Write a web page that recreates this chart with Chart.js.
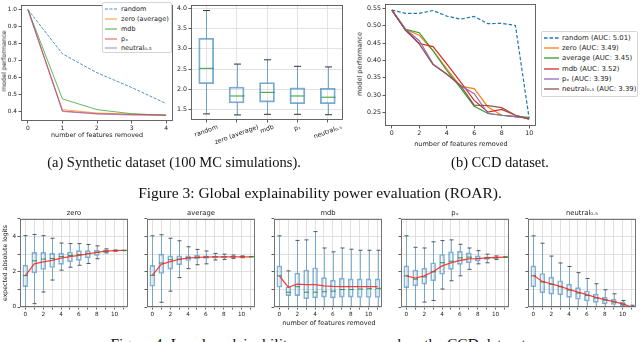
<!DOCTYPE html>
<html><head><meta charset="utf-8">
<script src="https://cdn.jsdelivr.net/npm/chart.js@4.4.1/dist/chart.umd.min.js"></script>
<style>
html,body{margin:0;padding:0;background:#fff;}
body{position:relative;width:640px;height:342px;overflow:hidden;}
canvas{position:absolute;}
.lbl{position:absolute;font-family:'DejaVu Sans',sans-serif;color:#1a1a1a;white-space:nowrap;line-height:1;}
.cap{position:absolute;font-family:'Liberation Serif',serif;color:#111;white-space:nowrap;line-height:1;}
.leg{position:absolute;background:#fff;border:1px solid #d4d4d4;border-radius:2px;box-sizing:border-box;}
</style></head><body>
<script>
// ================= DATA =================
// (a) synthetic dataset, ROAR curves
const synthSteps   = [0, 1, 2, 3, 4];
const synthRandom  = [1.0, 0.739, 0.627, 0.541, 0.446];
const synthZeroAvg = [1.0, 0.410, 0.390, 0.384, 0.378];
const synthMdb     = [1.0, 0.473, 0.410, 0.386, 0.376];
const synthPx      = [1.0, 0.402, 0.386, 0.381, 0.378];
const synthNeutral = [1.0, 0.399, 0.384, 0.378, 0.377];
const synthLabels  = ['random', 'zero (average)', 'mdb', 'pₓ', 'neutral₀.₅'];
const synthXTicks  = [0, 1, 2, 3, 4];
const synthYTicks  = [0.4, 0.5, 0.6, 0.7, 0.8, 0.9, 1.0];

// (a) synthetic dataset, AUC box plot
const boxCategories = ['random', 'zero (average)', 'mdb', 'pₓ', 'neutral₀.₅'];
const boxPositions  = [1, 2, 3, 4, 5];
const boxLow    = [1.40, 1.375, 1.39, 1.39, 1.38];
const boxQ1     = [2.14, 1.67, 1.69, 1.65, 1.65];
const boxMedian = [2.52, 1.84, 1.93, 1.84, 1.81];
const boxQ3     = [3.26, 2.06, 2.17, 2.04, 2.03];
const boxHigh   = [3.94, 2.625, 2.73, 2.57, 2.555];
const boxYTicks = [1.5, 2.0, 2.5, 3.0, 3.5, 4.0];

// (b) CCD dataset, ROAR curves
const ccdSteps   = [0, 1, 2, 3, 4, 5, 6, 7, 8, 9, 10];
const ccdRandom  = [0.545, 0.536, 0.536, 0.544, 0.528, 0.519, 0.527, 0.506, 0.507, 0.501, 0.233];
const ccdZero    = [0.545, 0.490, 0.473, 0.428, 0.376, 0.325, 0.319, 0.266, 0.242, 0.238, 0.233];
const ccdAverage = [0.545, 0.490, 0.480, 0.428, 0.371, 0.321, 0.268, 0.247, 0.242, 0.238, 0.236];
const ccdMdb     = [0.545, 0.487, 0.449, 0.440, 0.390, 0.338, 0.285, 0.251, 0.259, 0.242, 0.231];
const ccdPx      = [0.545, 0.490, 0.457, 0.390, 0.361, 0.328, 0.304, 0.247, 0.242, 0.238, 0.233];
const ccdNeutral = [0.545, 0.487, 0.447, 0.388, 0.360, 0.328, 0.271, 0.270, 0.264, 0.242, 0.231];
const ccdLabels  = ['random (AUC: 5.01)', 'zero (AUC: 3.49)', 'average (AUC: 3.45)',
                    'mdb (AUC: 3.52)', 'pₓ (AUC: 3.39)', 'neutral₀.₅ (AUC: 3.39)'];
const ccdXTicks  = [0, 2, 4, 6, 8, 10];
const ccdYTicks  = [0.25, 0.30, 0.35, 0.40, 0.45, 0.50, 0.55];

// Figure 4: local explainability, box plots per number of removed features
const localTitles    = ['zero', 'average', 'mdb', 'pₓ', 'neutral₀.₅'];
const localPositions = [0, 1, 2, 3, 4, 5, 6, 7, 8, 9, 10, 11];
const localXTicks    = [0, 2, 4, 6, 8, 10];
const localYGrid     = [0, 1, 2, 3, 4, 5];
const localYTicks    = [0, 2, 4];

const zeroLow    = [0.00, 0.19, 0.85, 1.53, 2.09, 2.26, 2.37, 2.47, 2.74, 3.07, 3.17, 3.20];
const zeroQ1     = [1.16, 1.93, 2.13, 2.24, 2.42, 2.56, 2.65, 2.79, 2.93, 3.10, 3.18, 3.20];
const zeroMedian = [1.78, 2.62, 2.72, 2.75, 2.86, 2.93, 2.98, 3.04, 3.10, 3.17, 3.20, 3.21];
const zeroQ3     = [2.37, 3.10, 3.10, 3.04, 3.06, 3.12, 3.20, 3.20, 3.23, 3.25, 3.22, 3.22];
const zeroHigh   = [4.05, 4.12, 4.05, 3.90, 3.63, 3.60, 3.60, 3.55, 3.47, 3.30, 3.24, 3.22];
const zeroMean   = [1.78, 2.45, 2.56, 2.65, 2.78, 2.86, 2.93, 3.02, 3.10, 3.17, 3.20, 3.21];

const averageLow    = [0.00, 0.27, 0.90, 1.67, 2.18, 2.40, 2.45, 2.67, 2.70, 2.76, 2.80, 2.85];
const averageQ1     = [1.18, 1.90, 2.15, 2.40, 2.64, 2.73, 2.76, 2.78, 2.80, 2.82, 2.84, 2.85];
const averageMedian = [1.80, 2.50, 2.68, 2.72, 2.80, 2.83, 2.84, 2.84, 2.84, 2.85, 2.85, 2.85];
const averageQ3     = [2.36, 3.00, 2.90, 2.90, 2.90, 2.94, 2.90, 2.89, 2.88, 2.87, 2.86, 2.85];
const averageHigh   = [4.04, 4.10, 3.90, 3.76, 3.42, 3.27, 3.18, 3.04, 3.00, 2.95, 2.90, 2.86];
const averageMean   = [1.80, 2.42, 2.58, 2.70, 2.78, 2.82, 2.83, 2.84, 2.84, 2.85, 2.85, 2.85];

const mdbLow    = [0, 0, 0, 0, 0, 0, 0, 0, 0, 0, 0, 0];
const mdbQ1     = [1.12, 0.65, 0.65, 0.47, 0.52, 0.56, 0.52, 0.56, 0.56, 0.54, 0.54, 0.54];
const mdbMedian = [1.77, 0.84, 1.15, 0.84, 0.84, 0.87, 0.90, 0.99, 0.99, 1.02, 1.04, 1.06];
const mdbQ3     = [2.33, 1.15, 1.92, 2.10, 2.23, 1.67, 1.53, 1.64, 1.60, 1.60, 1.60, 1.60];
const mdbHigh   = [4.04, 2.05, 3.78, 3.81, 4.28, 3.35, 3.13, 3.35, 3.28, 3.22, 3.22, 3.22];
const mdbMean   = [1.77, 1.12, 1.30, 1.27, 1.27, 1.20, 1.17, 1.16, 1.16, 1.16, 1.16, 1.16];

const pxLow    = [0.00, 0.00, 0.28, 0.37, 1.02, 1.49, 1.77, 2.14, 2.45, 2.51, 2.70, 2.83];
const pxQ1     = [1.10, 1.20, 1.30, 1.49, 1.86, 2.14, 2.42, 2.51, 2.60, 2.70, 2.76, 2.83];
const pxMedian = [1.77, 1.58, 1.71, 2.00, 2.51, 2.60, 2.79, 2.83, 2.75, 2.78, 2.80, 2.83];
const pxQ3     = [2.33, 2.10, 2.20, 2.51, 2.98, 3.13, 3.16, 3.07, 2.90, 2.85, 2.84, 2.83];
const pxHigh   = [4.04, 3.39, 3.35, 3.70, 3.77, 3.81, 3.56, 3.35, 3.20, 3.00, 2.90, 2.84];
const pxMean   = [1.77, 1.64, 1.77, 2.00, 2.33, 2.51, 2.64, 2.73, 2.75, 2.79, 2.81, 2.83];

const neutralLow    = [0, 0, 0, 0, 0, 0, 0, 0, 0, 0, 0, 0];
const neutralQ1     = [1.15, 0.80, 0.73, 0.69, 0.55, 0.44, 0.34, 0.26, 0.18, 0.14, 0.08, 0.00];
const neutralMedian = [1.77, 1.42, 1.29, 1.15, 0.96, 0.79, 0.65, 0.51, 0.39, 0.28, 0.16, 0.02];
const neutralQ3     = [2.33, 1.90, 1.70, 1.49, 1.30, 1.10, 0.91, 0.73, 0.55, 0.43, 0.28, 0.05];
const neutralHigh   = [4.04, 3.62, 2.89, 2.50, 2.30, 1.95, 1.62, 1.32, 0.98, 0.75, 0.37, 0.10];
const neutralMean   = [1.80, 1.45, 1.31, 1.17, 1.00, 0.85, 0.70, 0.55, 0.42, 0.30, 0.18, 0.00];

// ================= HELPERS =================
Chart.defaults.animation = false;
Chart.defaults.font.family = "'DejaVu Sans', sans-serif";
Chart.defaults.font.size = 6;
Chart.defaults.color = '#1a1a1a';
const NS = 'http://www.w3.org/2000/svg';
const AX = '#333';

function addCanvas(L, T, R, B, m) {
  const c = document.createElement('canvas');
  const w = R - L + m.l + m.r, h = B - T + m.t + m.b;
  c.width = w; c.height = h;
  c.style.left = (L - m.l) + 'px'; c.style.top = (T - m.t) + 'px';
  c.style.width = w + 'px'; c.style.height = h + 'px';
  document.body.appendChild(c);
  return c;
}
function scaleCfg(min, max, ticks, fmt, fit, grid, fs) {
  return {
    type: 'linear', min, max, offset: false,
    afterBuildTicks: s => { s.ticks = ticks.map(v => ({ value: v })); },
    afterFit: s => { if (s.isHorizontal()) s.height = fit; else s.width = fit; },
    ticks: { autoSkip: false, maxRotation: 0, minRotation: 0, padding: 1.5,
             font: { size: fs }, color: '#1a1a1a', callback: fmt },
    grid: { display: true, drawOnChartArea: !!grid, color: grid || 'rgba(0,0,0,0)',
            lineWidth: 0.8, drawTicks: true, tickLength: 2.5, tickColor: AX, tickWidth: 0.8, offset: false },
    border: { display: false }
  };
}
function baseOpts(m, scales) {
  return { responsive: false, animation: false, events: [],
    layout: { padding: { left: 0, top: m.t, right: m.r, bottom: 0 } },
    plugins: { legend: { display: false }, tooltip: { enabled: false } },
    scales };
}
function framePlugin(color) {
  return { id: 'frame', afterDatasetsDraw(chart) {
    const a = chart.chartArea, ctx = chart.ctx;
    ctx.save(); ctx.strokeStyle = color; ctx.lineWidth = 0.9;
    ctx.strokeRect(Math.round(a.left) + 0.5, Math.round(a.top) + 0.5,
                   Math.round(a.right - a.left) - 1, Math.round(a.bottom - a.top) - 1);
    ctx.restore();
  } };
}
function whiskerPlugin(pos, lo, q1, med, q3, hi, st) {
  return { id: 'whiskers', beforeDatasetsDraw(chart) {
    const xs = chart.scales.x, ys = chart.scales.y, ctx = chart.ctx, a = chart.chartArea;
    ctx.save();
    ctx.beginPath(); ctx.rect(a.left, a.top, a.right - a.left, a.bottom - a.top); ctx.clip();
    const seg = (x1, y1, x2, y2, c, w) => { ctx.strokeStyle = c; ctx.lineWidth = w;
      ctx.beginPath(); ctx.moveTo(x1, y1); ctx.lineTo(x2, y2); ctx.stroke(); };
    pos.forEach((p, i) => {
      const x = Math.round(xs.getPixelForValue(p)) + 0.5;
      const yl = ys.getPixelForValue(lo[i]), y1 = ys.getPixelForValue(q1[i]);
      const ym = ys.getPixelForValue(med[i]), y3 = ys.getPixelForValue(q3[i]);
      const yh = ys.getPixelForValue(hi[i]);
      seg(x, y3, x, yh, st.whisker, st.lw); seg(x, y1, x, yl, st.whisker, st.lw);
      seg(x - st.cap, yh, x + st.cap, yh, st.capColor, st.lw);
      seg(x - st.cap, yl, x + st.cap, yl, st.capColor, st.lw);
      seg(x - st.half, ym, x + st.half, ym, st.median, st.lw);
    });
    ctx.restore();
  } };
}
function rotLabelPlugin(pos, labels, angle, size, gap) {
  return { id: 'rotLabels', afterDraw(chart) {
    const ctx = chart.ctx, xs = chart.scales.x, top = chart.chartArea.bottom + gap;
    const th = angle * Math.PI / 180;
    ctx.save(); ctx.font = size + "px 'DejaVu Sans'"; ctx.fillStyle = '#1a1a1a';
    labels.forEach((lab, i) => {
      const w = ctx.measureText(lab).width;
      const H = w * Math.sin(th) + size * Math.cos(th);
      ctx.save();
      ctx.translate(xs.getPixelForValue(pos[i]), top + H / 2);
      ctx.rotate(-th); ctx.textAlign = 'center'; ctx.textBaseline = 'middle';
      ctx.fillText(lab, 0, 0); ctx.restore();
    });
    ctx.restore();
  } };
}
function txt(s, cx, cy, size, cls, rot) {
  const d = document.createElement('div');
  d.className = cls; d.textContent = s;
  d.style.left = cx + 'px'; d.style.top = cy + 'px'; d.style.fontSize = size + 'px';
  d.style.transform = 'translate(-50%,-50%)' + (rot ? ' rotate(' + rot + 'deg)' : '');
  document.body.appendChild(d);
}
function legend(box, labels, styles, y0, dy, sx, sw, tx, fs) {
  const d = document.createElement('div'); d.className = 'leg';
  d.style.left = box[0] + 'px'; d.style.top = box[1] + 'px';
  d.style.width = box[2] + 'px'; d.style.height = box[3] + 'px';
  document.body.appendChild(d);
  labels.forEach((lab, i) => {
    const y = y0 + i * dy, st = styles[i];
    const svg = document.createElementNS(NS, 'svg');
    svg.setAttribute('width', sw); svg.setAttribute('height', 4);
    svg.style.cssText = 'position:absolute;overflow:visible;left:' + sx + 'px;top:' + (y - 2) + 'px';
    const ln = document.createElementNS(NS, 'line');
    ln.setAttribute('x1', 0); ln.setAttribute('y1', 2); ln.setAttribute('x2', sw); ln.setAttribute('y2', 2);
    ln.setAttribute('stroke', st.color); ln.setAttribute('stroke-width', st.width);
    if (st.dash) ln.setAttribute('stroke-dasharray', st.dash.join(' '));
    svg.appendChild(ln); document.body.appendChild(svg);
    const t = document.createElement('div'); t.className = 'lbl'; t.textContent = lab;
    t.style.left = tx + 'px'; t.style.top = y + 'px'; t.style.fontSize = fs + 'px';
    t.style.transform = 'translateY(-50%)';
    document.body.appendChild(t);
  });
}

// ================= (a) left: ROAR synthetic =================
(function () {
  const L = 21, T = 3, R = 173, B = 121, m = { l: 21, t: 3, r: 4, b: 11 };
  const c = addCanvas(L, T, R, B, m);
  const series = [synthRandom, synthZeroAvg, synthMdb, synthPx, synthNeutral];
  const colors = ['rgba(31,119,180,0.8)', 'rgba(255,127,14,0.7)', 'rgba(44,160,44,0.75)',
                  'rgba(214,39,40,0.65)', 'rgba(148,103,189,0.7)'];
  new Chart(c, {
    type: 'line',
    data: { datasets: series.map((s, i) => ({
      label: synthLabels[i], data: synthSteps.map((x, j) => ({ x, y: s[j] })),
      borderColor: colors[i], borderWidth: 1, borderDash: i === 0 ? [3, 1.5] : [],
      pointRadius: 0, tension: 0, order: -i })) },
    options: baseOpts(m, {
      x: scaleCfg(-0.2, 4.2, synthXTicks, v => String(v), m.b, null, 6),
      y: scaleCfg(0.343, 1.027, synthYTicks, v => v.toFixed(1), m.l, null, 5.8) }),
    plugins: [framePlugin('#555')]
  });
  legend([102, 2, 70, 51], synthLabels,
    colors.map((col, i) => ({ color: col, width: 1.2, dash: i === 0 ? [3, 1.5] : null })),
    9.3, 9.75, 105, 12, 121, 6.5);
  txt('number of features removed', 97, 134.5, 6.4, 'lbl');
  txt('model performance', 3.6, 61, 6.2, 'lbl', -90);
})();

// ================= (a) right: AUC box plot =================
(function () {
  const L = 191, T = 3, R = 343, B = 120, m = { l: 16, t: 3, r: 3, b: 27 };
  const c = addCanvas(L, T, R, B, m);
  const boxColor = 'rgba(31,119,180,0.6)';
  new Chart(c, {
    type: 'bar',
    data: { datasets: [{
      type: 'bar', data: boxPositions.map((p, i) => ({ x: p, y: [boxQ1[i], boxQ3[i]] })),
      backgroundColor: 'rgba(0,0,0,0)', borderColor: boxColor, borderWidth: 1.2,
      borderSkipped: false, barThickness: 15, grouped: false }] },
    options: baseOpts(m, {
      x: scaleCfg(0.5, 5.5, boxPositions, () => '', m.b, '#dcdcdc', 6.3),
      y: scaleCfg(1.25, 4.07, boxYTicks, v => v.toFixed(1), m.l, '#dcdcdc', 6.3) }),
    plugins: [
      whiskerPlugin(boxPositions, boxLow, boxQ1, boxMedian, boxQ3, boxHigh,
        { whisker: boxColor, capColor: '#333', median: '#2ca02c', lw: 1, cap: 3.5, half: 7 }),
      rotLabelPlugin(boxPositions, boxCategories, 20, 6.3, 4),
      framePlugin('#555')]
  });
})();

// ================= (b) ROAR CCD =================
(function () {
  const L = 385, T = 2, R = 536, B = 126, m = { l: 22, t: 3, r: 3, b: 11 };
  const c = addCanvas(L, T, R, B, m);
  const series = [ccdRandom, ccdZero, ccdAverage, ccdMdb, ccdPx, ccdNeutral];
  const colors = ['#1f77b4', '#ff7f0e', '#2ca02c', '#d62728', '#9467bd', '#8c564b'];
  new Chart(c, {
    type: 'line',
    data: { datasets: series.map((s, i) => ({
      label: ccdLabels[i], data: ccdSteps.map((x, j) => ({ x, y: s[j] })),
      borderColor: colors[i], borderWidth: 1.2, borderDash: i === 0 ? [3.5, 2] : [],
      pointRadius: 0, tension: 0, order: -i })) },
    options: baseOpts(m, {
      x: scaleCfg(-0.5, 10.5, ccdXTicks, v => String(v), m.b, null, 6.3),
      y: scaleCfg(0.211, 0.562, ccdYTicks, v => v.toFixed(2), m.l, null, 6.3) }),
    plugins: [framePlugin('#555')]
  });
  legend([541, 31, 97, 66], ccdLabels,
    colors.map((col, i) => ({ color: col, width: 1.3, dash: i === 0 ? [3.5, 2] : null })),
    37.7, 10.3, 544, 15, 562, 6.9);
  txt('number of features removed', 461, 144, 6.5, 'lbl');
  txt('model performance', 359.5, 64, 6.5, 'lbl', -90);
})();

// ================= Figure 4 panels =================
const localPanels = [
  { title: localTitles[0], low: zeroLow, q1: zeroQ1, med: zeroMedian, q3: zeroQ3, high: zeroHigh, mean: zeroMean },
  { title: localTitles[1], low: averageLow, q1: averageQ1, med: averageMedian, q3: averageQ3, high: averageHigh, mean: averageMean },
  { title: localTitles[2], low: mdbLow, q1: mdbQ1, med: mdbMedian, q3: mdbQ3, high: mdbHigh, mean: mdbMean },
  { title: localTitles[3], low: pxLow, q1: pxQ1, med: pxMedian, q3: pxQ3, high: pxHigh, mean: pxMean },
  { title: localTitles[4], low: neutralLow, q1: neutralQ1, med: neutralMedian, q3: neutralQ3, high: neutralHigh, mean: neutralMean }
];
localPanels.forEach((pn, k) => {
  const L = 20 + 127 * k, T = 217, R = L + 108, B = 307;
  const m = { l: k === 0 ? 20 : 4, t: 3, r: 3, b: 10 };
  const c = addCanvas(L, T, R, B, m);
  const boxColor = 'rgba(31,119,180,0.55)';
  new Chart(c, {
    type: 'bar',
    data: { datasets: [
      { type: 'line', data: localPositions.map((p, i) => ({ x: p, y: pn.mean[i] })),
        borderColor: 'rgba(255,30,30,0.85)', borderWidth: 1.3, pointRadius: 0, tension: 0, order: 0 },
      { type: 'bar', data: localPositions.map((p, i) => ({ x: p, y: [pn.q1[i], pn.q3[i]] })),
        backgroundColor: 'rgba(0,0,0,0)', borderColor: boxColor, borderWidth: 1,
        borderSkipped: false, barThickness: 5, grouped: false, order: 1 } ] },
    options: baseOpts(m, {
      x: scaleCfg(-0.6, 11.5, localPositions, v => localXTicks.includes(v) ? String(v) : '', m.b, '#d8d8d8', 5.7),
      y: scaleCfg(0, 5, localYGrid, v => (k === 0 && localYTicks.includes(v)) ? String(v) : '', m.l, '#d8d8d8', 5.7) }),
    plugins: [
      whiskerPlugin(localPositions, pn.low, pn.q1, pn.med, pn.q3, pn.high,
        { whisker: boxColor, capColor: '#555', median: '#2ca02c', lw: 1, cap: 2, half: 2.5 }),
      framePlugin('#666')]
  });
  txt(pn.title, L + 54, 212.5, 6.8, 'lbl');
});
txt('expected absolute logits', 4.5, 263, 6.2, 'lbl', -90);
txt('number of features removed', 329, 323, 6.5, 'lbl');

// ================= captions =================
txt('(a) Synthetic dataset (100 MC simulations).', 174, 162, 14.5, 'cap');
txt('(b) CCD dataset.', 500, 162, 14.5, 'cap');
txt('Figure 3: Global explainability power evaluation (ROAR).', 320, 193, 15.5, 'cap');
txt('Figure 4: Local explainability power measured on the CCD dataset.', 320, 344, 15.5, 'cap');
</script>
</body></html>
